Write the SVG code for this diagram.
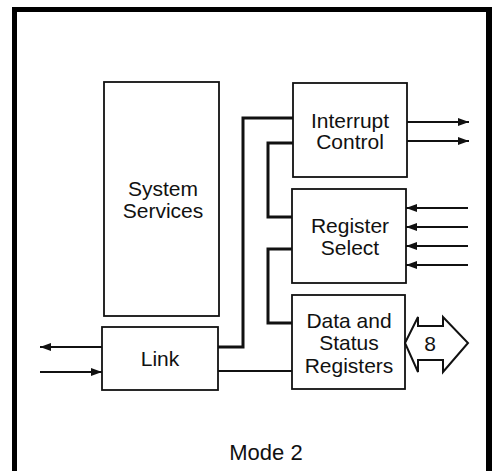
<svg xmlns="http://www.w3.org/2000/svg" width="492" height="471" viewBox="0 0 492 471">
<style>
.box{fill:#fff;stroke:#111;stroke-width:1.8}
.lbl{font-family:"Liberation Sans",Arial,sans-serif;font-size:21px;fill:#111;text-anchor:middle}
.thick{fill:none;stroke:#111;stroke-width:3}
.thin{fill:none;stroke:#111;stroke-width:1.8}
</style>
<defs>
<marker id="ah" markerUnits="userSpaceOnUse" markerWidth="12" markerHeight="10" refX="11" refY="5" orient="auto">
<path d="M0,1 L11,5 L0,9 Z" fill="#111"/>
</marker>
</defs>
<rect width="492" height="471" fill="#fff"/>
<g id="frame">
<rect x="14.5" y="9.5" width="474" height="480" fill="none" stroke="#000" stroke-width="5"/>
<rect x="486" y="7" width="6" height="470" fill="#000"/>
</g>
<g id="system-services">
<rect class="box" x="104" y="82" width="115" height="234"/>
<text class="lbl" x="163" y="196">System</text>
<text class="lbl" x="163" y="218">Services</text>
</g>
<g id="link">
<rect class="box" x="102" y="327" width="116" height="63"/>
<text class="lbl" x="160" y="366">Link</text>
</g>
<g id="interrupt-control">
<rect class="box" x="293" y="83" width="114" height="94"/>
<text class="lbl" x="350" y="128">Interrupt</text>
<text class="lbl" x="350" y="149">Control</text>
</g>
<g id="register-select">
<rect class="box" x="292" y="189" width="114" height="94"/>
<text class="lbl" x="350" y="233">Register</text>
<text class="lbl" x="350" y="255">Select</text>
</g>
<g id="data-status-registers">
<rect class="box" x="292" y="295" width="113" height="94"/>
<text class="lbl" x="349" y="328">Data and</text>
<text class="lbl" x="349" y="350">Status</text>
<text class="lbl" x="349" y="373">Registers</text>
</g>
<g id="bus">
<path d="M405,343 L418,317 L418,326 L443,326 L443,317 L468,343 L443,372 L443,360 L418,360 L418,372 Z" fill="#fff" stroke="#111" stroke-width="2" stroke-linejoin="miter"/>
<text class="lbl" x="430" y="351">8</text>
</g>
<g id="connectors">
<path class="thick" d="M218,347 H243 V118 H293"/>
<path class="thick" d="M293,143 H268 V217 H292"/>
<path class="thick" d="M292,249 H268 V323 H292"/>
<path class="thin" d="M218,371 H292"/>
<path class="thin" d="M102,347 H40" marker-end="url(#ah)"/>
<path class="thin" d="M40,372 H102" marker-end="url(#ah)"/>
<path class="thin" d="M407,122 H469" marker-end="url(#ah)"/>
<path class="thin" d="M407,141 H469" marker-end="url(#ah)"/>
<path class="thin" d="M468,208 H406" marker-end="url(#ah)"/>
<path class="thin" d="M468,227 H406" marker-end="url(#ah)"/>
<path class="thin" d="M468,246 H406" marker-end="url(#ah)"/>
<path class="thin" d="M468,265 H406" marker-end="url(#ah)"/>
</g>
<g id="caption">
<text class="lbl" x="266" y="460" style="font-size:22px">Mode 2</text>
</g>
</svg>
